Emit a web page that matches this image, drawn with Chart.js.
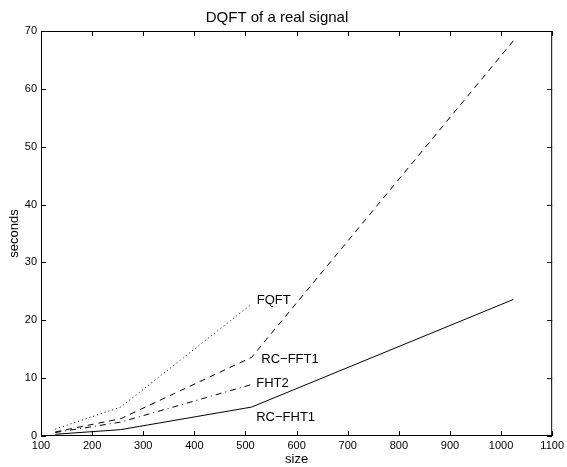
<!DOCTYPE html>
<html><head><meta charset="utf-8">
<script src="https://cdn.jsdelivr.net/npm/chart.js@4/dist/chart.umd.min.js"></script>
<style>html,body{margin:0;padding:0;background:#fff}</style>
</head><body>
<canvas id="c" width="567" height="467"></canvas>
<script>
const sizes = [128, 256, 512, 1024];
const rcFht1 = [0.3, 1.1, 5.0, 23.6];
const rcFft1 = [0.7, 3.0, 13.6, 68.3];
const fht2 = [0.6, 2.4, 8.9];
const fqft = [1.2, 5.0, 22.8];
const seriesNames = ['RC\u2212FHT1', 'RC\u2212FFT1', 'FHT2', 'FQFT'];
const labelX = [521, 531, 521, 522];
const labelY = [3.2, 13.3, 9.1, 23.4];
const xTicks = [100, 200, 300, 400, 500, 600, 700, 800, 900, 1000, 1100];
const yTicks = [0, 10, 20, 30, 40, 50, 60, 70];
const titleText = 'DQFT of a real signal';
const xTitle = 'size';
const yTitle = 'seconds';

const FONT = "'Liberation Sans', Arial, Helvetica, sans-serif";
const pts = (vals) => vals.map((v, i) => ({x: sizes[i], y: v}));
const dashes = [[], [6, 5], [6, 4, 1, 4], [1, 3]];
const seriesVals = [rcFht1, rcFft1, fht2, fqft];

const matlabBox = {
  id: 'matlabBox',
  afterDatasetsDraw(chart) {
    const {ctx, chartArea: {left, right, top, bottom}, scales: {x, y}} = chart;
    ctx.save();
    ctx.strokeStyle = '#000';
    ctx.lineWidth = 1;
    ctx.setLineDash([]);
    ctx.strokeRect(left + 0.5, top + 0.5, right - left - 1, bottom - top - 1);
    const tl = 5;
    ctx.beginPath();
    xTicks.forEach(v => {
      const px = Math.round(x.getPixelForValue(v)) + 0.5;
      ctx.moveTo(px, bottom); ctx.lineTo(px, bottom - tl);
      ctx.moveTo(px, top); ctx.lineTo(px, top + tl);
    });
    yTicks.forEach(v => {
      const py = Math.round(y.getPixelForValue(v)) + 0.5;
      ctx.moveTo(left, py); ctx.lineTo(left + tl, py);
      ctx.moveTo(right, py); ctx.lineTo(right - tl, py);
    });
    ctx.stroke();
    ctx.fillStyle = '#000';
    ctx.font = '13px ' + FONT;
    ctx.textAlign = 'left';
    ctx.textBaseline = 'middle';
    seriesNames.forEach((n, i) => {
      ctx.fillText(n, x.getPixelForValue(labelX[i]), y.getPixelForValue(labelY[i]));
    });
    ctx.restore();
  }
};

new Chart(document.getElementById('c'), {
  type: 'scatter',
  data: {
    datasets: seriesNames.map((n, i) => ({
      label: n,
      data: pts(seriesVals[i]),
      showLine: true,
      borderColor: '#000',
      backgroundColor: '#000',
      borderWidth: 1,
      borderDash: dashes[i],
      pointRadius: 0,
      tension: 0,
      fill: false
    }))
  },
  options: {
    responsive: false,
    devicePixelRatio: 1,
    animation: false,
    layout: {padding: {left: 0, right: 13, top: 0, bottom: 0}},
    plugins: {
      legend: {display: false},
      tooltip: {enabled: false},
      title: {
        display: true, text: titleText, color: '#000',
        font: {family: FONT, size: 15, weight: 'normal'},
        padding: {top: 9, bottom: 4}
      }
    },
    scales: {
      x: {
        type: 'linear', min: 100, max: 1100,
        afterBuildTicks: s => { s.ticks = xTicks.map(v => ({value: v})); },
        afterFit: s => { s.height = 31; },
        grid: {display: false, drawTicks: false},
        border: {display: false},
        ticks: {color: '#000', font: {family: FONT, size: 11}, padding: 3, maxRotation: 0, autoSkip: false,
                callback: v => String(v)},
        title: {display: true, text: xTitle, color: '#000', font: {family: FONT, size: 13}, padding: 0}
      },
      y: {
        type: 'linear', min: 0, max: 70,
        afterBuildTicks: s => { s.ticks = yTicks.map(v => ({value: v})); },
        afterFit: s => { s.width = 41; },
        grid: {display: false, drawTicks: false},
        border: {display: false},
        ticks: {color: '#000', font: {family: FONT, size: 11}, padding: 4, autoSkip: false,
                callback: v => String(v)},
        title: {display: true, text: yTitle, color: '#000', font: {family: FONT, size: 13}, padding: {top: 7, bottom: 0}}
      }
    }
  },
  plugins: [matlabBox]
});
</script>
</body></html>
